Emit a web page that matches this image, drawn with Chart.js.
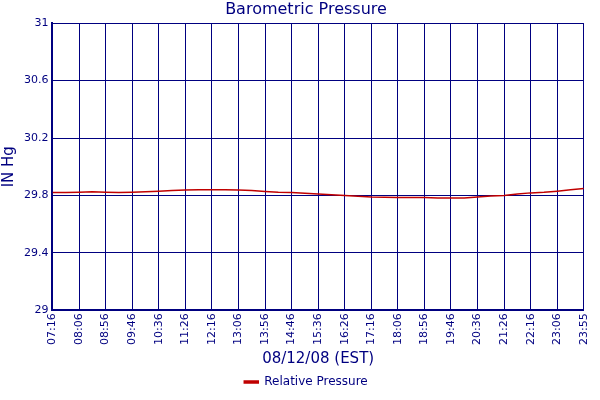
<!DOCTYPE html>
<html><head><script src="https://cdn.jsdelivr.net/npm/chart.js"></script>
<style>body{margin:0;background:#fff}#w{width:600px;height:400px}</style></head>
<body><div id="w"><canvas id="c"></canvas></div>
<script>
const tickLabels=["07:16","08:06","08:56","09:46","10:36","11:26","12:16","13:06","13:56","14:46","15:36","16:26","17:16","18:06","18:56","19:46","20:36","21:26","22:16","23:06","23:55"];
const minutes=[0,25,50,75,100,125,150,175,200,225,250,275,300,325,350,375,400,425,450,475,500,525,550,575,600,625,650,675,700,725,750,775,800,825,850,875,900,925,950,975,1000];
const pressure=[29.82,29.82,29.822,29.825,29.822,29.82,29.822,29.825,29.83,29.835,29.838,29.84,29.84,29.84,29.838,29.835,29.828,29.822,29.82,29.815,29.81,29.805,29.8,29.795,29.79,29.788,29.785,29.785,29.785,29.783,29.782,29.782,29.79,29.797,29.8,29.81,29.818,29.822,29.83,29.84,29.848];
const yTicks=[29,29.4,29.8,30.2,30.6,31];
const navy='#000080';
const F='DejaVu Sans';
new Chart(document.getElementById('c'),{type:'line',
data:{datasets:[{label:'Relative Pressure',data:minutes.map((m,i)=>({x:m,y:pressure[i]})),borderColor:'#c00000',backgroundColor:'#c00000',borderWidth:1.5,pointRadius:0,tension:0}]},
options:{responsive:true,maintainAspectRatio:false,animation:false,
layout:{padding:{left:0,right:-12,top:0,bottom:2}},
plugins:{title:{display:true,text:'Barometric Pressure',color:navy,font:{family:F,size:16,weight:'normal'},padding:{top:0,bottom:4}},
legend:{position:'bottom',labels:{color:navy,font:{family:F,size:12},boxWidth:14,boxHeight:2,padding:4}},tooltip:{enabled:false}},
scales:{x:{type:'linear',min:0,max:1000,
afterBuildTicks:a=>{a.ticks=tickLabels.map((_,i)=>({value:i*50}));},
ticks:{color:navy,font:{family:F,size:11},maxRotation:90,minRotation:90,autoSkip:false,padding:3,callback:(v)=>tickLabels[Math.round(v/50)]},
grid:{color:navy,lineWidth:1,drawTicks:false},border:{color:navy,width:2},
title:{display:true,text:'08/12/08 (EST)',color:navy,font:{family:F,size:15},padding:{top:2,bottom:4}}},
y:{min:29,max:31,afterBuildTicks:a=>{a.ticks=yTicks.map(v=>({value:v}));},
ticks:{color:navy,font:{family:F,size:11},padding:4,callback:v=>String(+v.toFixed(1))},
grid:{color:navy,lineWidth:1,drawTicks:false},border:{color:navy,width:2},
title:{display:true,text:'IN Hg',color:navy,font:{family:F,size:15},padding:{top:0,bottom:2}}}}}});
</script></body></html>
